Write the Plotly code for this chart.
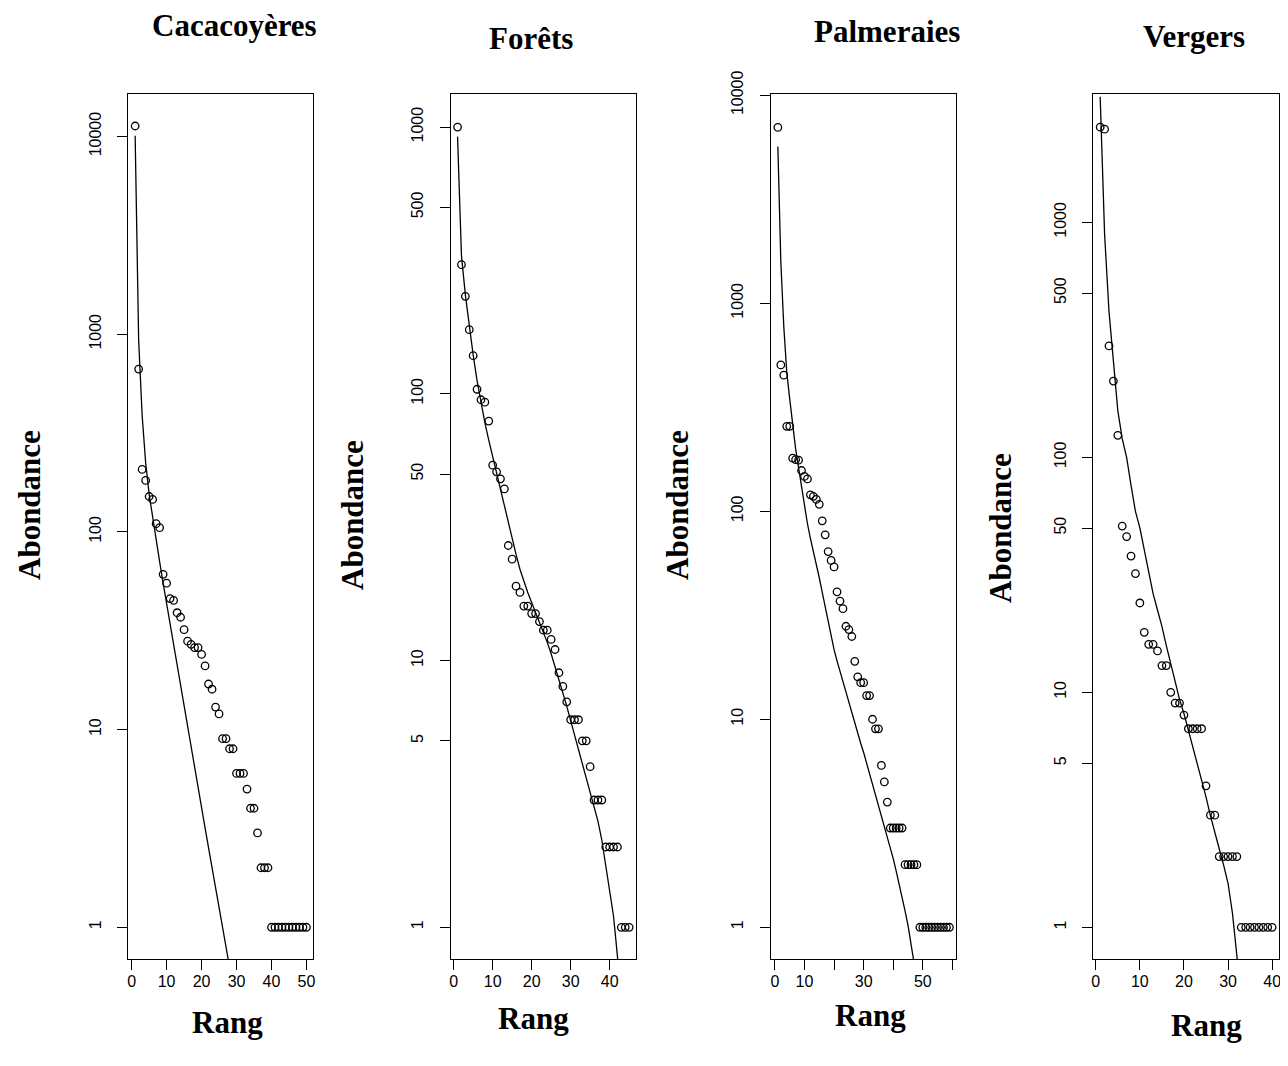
import plotly.graph_objects as go

# ---------------- data ----------------
titles = ["Cacacoyères", "Forêts", "Palmeraies", "Vergers"]

cacao_abund = [11300, 666, 207, 182, 151, 146, 110, 105, 61, 55, 46, 45, 39, 37, 32,
               28, 27, 26, 26, 24, 21, 17, 16, 13, 12, 9, 9, 8, 8, 6, 6, 6, 5, 4, 4,
               3, 2, 2, 2, 1, 1, 1, 1, 1, 1, 1, 1, 1, 1, 1]
cacao_fit = [10100, 933, 389, 224, 155, 117, 91.2, 70.8, 55.0, 43.2, 33.9, 26.6, 20.9,
             16.4, 12.9, 10.2, 8.09, 6.40, 5.07, 4.02, 3.18, 2.52, 2.00, 1.59, 1.26,
             1.00, 0.80, 0.63]

forets_abund = [1000, 305, 232, 174, 139, 104, 95, 93, 79, 54, 51, 48, 44, 27, 24, 19,
                18, 16, 16, 15, 15, 14, 13, 13, 12, 11, 9, 8, 7, 6, 6, 6, 5, 5, 4, 3,
                3, 3, 2, 2, 2, 2, 1, 1, 1]
forets_fit = [921, 330, 235, 178, 140, 112, 92, 78, 67, 58, 50.5, 44, 38, 33, 28.5, 25,
              22, 19.8, 18, 16.5, 15.2, 14, 12.9, 11.7, 10.6, 9.5, 8.5, 7.6, 6.75, 5.95,
              5.25, 4.65, 4.12, 3.62, 3.2, 2.85, 2.5, 2.12, 1.72, 1.4, 1.1, 0.78, 0.5,
              0.3, 0.17]

palm_abund = [7000, 505, 451, 256, 256, 180, 177, 176, 157, 147, 143, 120, 118, 114, 108,
              90, 77, 64, 58, 54, 41, 37, 34, 28, 27, 25, 19, 16, 15, 15, 13, 13, 10, 9,
              9, 6, 5, 4, 3, 3, 3, 3, 3, 2, 2, 2, 2, 2, 1, 1, 1, 1, 1, 1, 1, 1, 1, 1, 1]
palm_fit = [5662, 1585, 776, 468, 347, 263, 200, 162, 132, 105, 87.1, 74.1, 64.6, 56.2,
            47.9, 40.7, 34.7, 29.5, 25.1, 21.6, 19.1, 17.0, 15.1, 13.5, 12.0, 10.7, 9.66,
            8.61, 7.67, 6.92, 6.17, 5.50, 4.90, 4.37, 3.89, 3.47, 3.09, 2.75, 2.43, 2.14,
            1.86, 1.62, 1.41, 1.20, 1.02, 0.85, 0.68, 0.52]

verg_abund = [2540, 2490, 298, 211, 124, 51, 46, 38, 32, 24, 18, 16, 16, 15, 13, 13, 10,
              9, 9, 8, 7, 7, 7, 7, 4, 3, 3, 2, 2, 2, 2, 2, 1, 1, 1, 1, 1, 1, 1, 1]
verg_fit = [3420, 891, 417, 251, 158, 120, 100, 75.9, 58.9, 50.1, 40.7, 33.1, 26.3, 22.4,
            19.1, 15.8, 13.2, 11.2, 9.33, 8.13, 6.92, 5.89, 4.90, 4.22, 3.59, 2.99, 2.51,
            2.16, 1.84, 1.54, 1.15, 0.76, 0.50]

abund = [cacao_abund, forets_abund, palm_abund, verg_abund]
fits = [cacao_fit, forets_fit, palm_fit, verg_fit]

x_ticks = [[0, 10, 20, 30, 40, 50], [0, 10, 20, 30, 40],
           [0, 10, 20, 30, 40, 50, 60], [0, 10, 20, 30, 40]]
x_ticktext = [["0", "10", "20", "30", "40", "50"], ["0", "10", "20", "30", "40"],
              ["0", "10", "", "30", "", "50", ""], ["0", "10", "20", "30", "40"]]
y_ticks = [[1, 10, 100, 1000, 10000], [1, 5, 10, 50, 100, 500, 1000],
           [1, 10, 100, 1000, 10000], [1, 5, 10, 50, 100, 500, 1000]]
x_ranges = [[-0.96, 51.96], [-0.76, 46.76], [-1.32, 61.32], [-0.56, 41.56]]
y_ranges = [[-0.162, 4.215], [-0.12, 3.124], [-0.154, 4.006], [-0.136, 3.546]]

# ---------------- layout geometry (page pixels) ----------------
W, H = 1288, 1066
OFF = 8  # default body margin of the html page
box_x = [(128.3, 313.3), (450.7, 636.0), (771.0, 956.3), (1093.3, 1279.0)]
box_top, box_bot = 94.0, 959.3
title_pos = [(234, 25), (531, 38), (887, 31), (1194, 37)]
xlab_pos = [(227, 1022), (533, 1018), (870, 1015), (1206, 1025)]
ylab_pos = [(30, 505), (352, 515), (678, 505), (1000, 528)]


def fx(px):
    return (px - OFF) / W


def fy(py):
    return 1 - (py - OFF) / H


fig = go.Figure()
tick_font = dict(family="Liberation Sans, Arial, sans-serif", size=16, color="black")
lab_font = dict(family="Liberation Serif, Times New Roman, serif", size=31, color="black")

annotations = []
for i in range(4):
    sfx = "" if i == 0 else str(i + 1)
    ranks = list(range(1, len(abund[i]) + 1))
    fit_ranks = list(range(1, len(fits[i]) + 1))
    fig.add_trace(go.Scatter(x=ranks, y=abund[i], mode="markers",
                             marker=dict(symbol="circle-open", size=7.5, color="black",
                                         line=dict(width=1.3, color="black")),
                             xaxis="x" + sfx, yaxis="y" + sfx, showlegend=False,
                             cliponaxis=False))
    fig.add_trace(go.Scatter(x=fit_ranks, y=fits[i], mode="lines",
                             line=dict(color="black", width=1.3),
                             xaxis="x" + sfx, yaxis="y" + sfx, showlegend=False))
    x0, x1 = box_x[i]
    xa = dict(domain=[fx(x0), fx(x1)], range=x_ranges[i], anchor="y" + sfx,
              tickmode="array", tickvals=x_ticks[i], ticktext=x_ticktext[i],
              ticks="outside", ticklen=10, tickwidth=1.3, tickcolor="black",
              showline=True, mirror=True, linecolor="black", linewidth=1.3,
              showgrid=False, zeroline=False, tickfont=tick_font, automargin=False,
              ticklabelstandoff=-3, fixedrange=True)
    ya = dict(domain=[fy(box_bot), fy(box_top)], type="log", range=y_ranges[i],
              anchor="x" + sfx, tickmode="array", tickvals=y_ticks[i],
              ticktext=[str(v) for v in y_ticks[i]], tickangle=-90,
              ticks="outside", ticklen=10, tickwidth=1.3, tickcolor="black",
              showline=True, mirror=True, linecolor="black", linewidth=1.3,
              showgrid=False, zeroline=False, tickfont=tick_font, automargin=False,
              ticklabelstandoff=10, fixedrange=True)
    fig.layout["xaxis" + sfx] = xa
    fig.layout["yaxis" + sfx] = ya

    tx, ty = title_pos[i]
    annotations.append(dict(text="<b>" + titles[i] + "</b>", x=fx(tx), y=fy(ty),
                            xref="paper", yref="paper", showarrow=False,
                            xanchor="center", yanchor="middle", font=lab_font))
    lx, ly = xlab_pos[i]
    annotations.append(dict(text="<b>Rang</b>", x=fx(lx), y=fy(ly),
                            xref="paper", yref="paper", showarrow=False,
                            xanchor="center", yanchor="middle", font=lab_font))
    ax_, ay_ = ylab_pos[i]
    annotations.append(dict(text="<b>Abondance</b>", x=fx(ax_), y=fy(ay_),
                            xref="paper", yref="paper", showarrow=False, textangle=-90,
                            xanchor="center", yanchor="middle", font=lab_font))

fig.update_layout(width=W, height=H, autosize=False,
                  margin=dict(l=0, r=0, t=0, b=0, pad=0, autoexpand=False),
                  paper_bgcolor="white", plot_bgcolor="white",
                  annotations=annotations)

fig.write_html("out.html", config={"displayModeBar": False})
